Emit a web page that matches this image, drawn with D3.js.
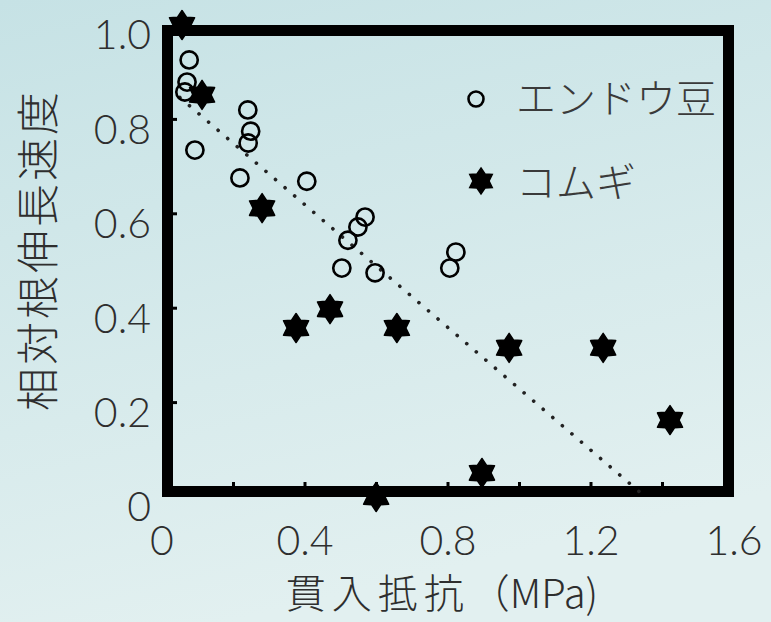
<!DOCTYPE html>
<html>
<head>
<meta charset="utf-8">
<script src="https://cdn.jsdelivr.net/npm/d3@7"></script>
<style>
  html, body { margin: 0; padding: 0; }
  body { width: 771px; height: 622px; overflow: hidden; }
  svg { display: block; }
</style>
</head>
<body>
<svg id="chart" width="771" height="622"></svg>
<script>
// Penetration resistance (MPa) vs. relative root elongation rate
const peaX  = [0.076, 0.070, 0.064, 0.092, 0.240, 0.248, 0.241, 0.218, 0.405, 0.568, 0.548, 0.520, 0.503, 0.596, 0.822, 0.805];
const peaY  = [0.926, 0.879, 0.858, 0.735, 0.820, 0.775, 0.750, 0.676, 0.669, 0.593, 0.572, 0.544, 0.485, 0.475, 0.519, 0.485];
const wheatX = [0.056, 0.112, 0.280, 0.375, 0.470, 0.657, 0.599, 0.895, 0.971, 1.234, 1.421];
const wheatY = [1.000, 0.852, 0.612, 0.358, 0.398, 0.358, 0.000, 0.051, 0.316, 0.316, 0.163];
// fitted line: y = fitIntercept + fitSlope * x
const fitIntercept = 0.879;
const fitSlope = -0.65;
const fitXRange = [0.05, 1.352];

const xTicks = [0, 0.4, 0.8, 1.2, 1.6];
const xTickLabels = ["0", "0.4", "0.8", "1.2", "1.6"];
const xMinorTicks = [0.2, 0.4, 0.6, 0.8, 1.0, 1.2, 1.4];
const yTicks = [0, 0.2, 0.4, 0.6, 0.8, 1.0];
const yTickLabels = ["0", "0.2", "0.4", "0.6", "0.8", "1.0"];
const yMinorTicks = [0.2, 0.4, 0.6, 0.8];
const legendLabels = ["エンドウ豆", "コムギ"];
const xTitleParts = ["貫入抵抗", "（MPa)"];
const yTitle = "相対根伸長速度";

const svg = d3.select("#chart");
const W = 771, H = 622;

// background gradient
const defs = svg.append("defs");
const grad = defs.append("linearGradient").attr("id", "bg")
  .attr("x1", 0).attr("y1", 0).attr("x2", 0.3).attr("y2", 1);
grad.append("stop").attr("offset", "0%").attr("stop-color", "#c6e2e5");
grad.append("stop").attr("offset", "100%").attr("stop-color", "#e2f0f0");
svg.append("rect").attr("width", W).attr("height", H).attr("fill", "url(#bg)");

const x = d3.scaleLinear().domain([0, 1.6]).range([162, 734]);
const y = d3.scaleLinear().domain([0, 1]).range([497, 25]);

const frameW = 11;
const ink = "#000";
const textInk = "#2e2e2e";
const cjk = "'Noto Sans CJK JP', 'Noto Sans', sans-serif";
const digits = "Lato, 'Noto Sans', sans-serif";

// thick plot frame, stroke drawn inside the axis extents
svg.append("rect")
  .attr("x", x(0) + frameW / 2)
  .attr("y", y(1) + frameW / 2)
  .attr("width", x(1.6) - x(0) - frameW)
  .attr("height", y(0) - y(1) - frameW)
  .attr("fill", "none")
  .attr("stroke", ink)
  .attr("stroke-width", frameW);

// inward tick marks
svg.append("g").selectAll("line").data(xMinorTicks).join("line")
  .attr("x1", d => x(d)).attr("x2", d => x(d))
  .attr("y1", y(0) - frameW).attr("y2", y(0) - frameW - 4)
  .attr("stroke", ink).attr("stroke-width", 3);
svg.append("g").selectAll("line").data(yMinorTicks).join("line")
  .attr("y1", d => y(d)).attr("y2", d => y(d))
  .attr("x1", x(0) + frameW).attr("x2", x(0) + frameW + 4)
  .attr("stroke", ink).attr("stroke-width", 3);

// tick labels
svg.append("g").selectAll("text").data(xTicks).join("text")
  .attr("x", d => x(d)).attr("y", 555)
  .attr("text-anchor", "middle")
  .attr("font-family", digits).attr("font-size", 41).attr("font-weight", 300)
  .attr("fill", textInk)
  .text((d, i) => xTickLabels[i]);
svg.append("g").selectAll("text").data(yTicks).join("text")
  .attr("x", 151).attr("y", d => y(d) + 10)
  .attr("dy", "0.35em")
  .attr("text-anchor", "end")
  .attr("font-family", digits).attr("font-size", 41).attr("font-weight", 300)
  .attr("fill", textInk)
  .text((d, i) => yTickLabels[i]);

// axis titles
const xt = svg.append("text")
  .attr("x", 442).attr("y", 608)
  .attr("text-anchor", "middle")
  .attr("font-family", cjk).attr("font-size", 40).attr("font-weight", 300)
  .attr("fill", textInk);
xt.append("tspan").attr("letter-spacing", 6).text(xTitleParts[0]);
xt.append("tspan").attr("letter-spacing", 0).text(xTitleParts[1]);
svg.append("text")
  .attr("transform", "translate(54,250) rotate(-90)")
  .attr("text-anchor", "middle")
  .attr("font-family", cjk).attr("font-size", 43).attr("font-weight", 300)
  .attr("letter-spacing", 3)
  .attr("fill", textInk)
  .text(yTitle);

// dotted fitted line
const fitLine = d3.line().x(d => x(d)).y(d => y(fitIntercept + fitSlope * d));
svg.append("path")
  .attr("d", fitLine(fitXRange))
  .attr("fill", "none")
  .attr("stroke", "#222")
  .attr("stroke-width", 3.6)
  .attr("stroke-linecap", "round")
  .attr("stroke-dasharray", "0.1,12.5");

// six-pointed star marker
function starPath(R) {
  const r = R * 0.62;
  const pts = [];
  for (let k = 0; k < 12; k++) {
    const a = -Math.PI / 2 + k * Math.PI / 6;
    const rad = k % 2 === 0 ? R : r;
    pts.push([rad * Math.cos(a), rad * Math.sin(a)]);
  }
  return "M" + pts.map(p => p.join(",")).join("L") + "Z";
}

// pea: open circles
svg.append("g").selectAll("circle").data(d3.range(peaX.length)).join("circle")
  .attr("cx", i => x(peaX[i])).attr("cy", i => y(peaY[i]))
  .attr("r", 8.6)
  .attr("fill", "none")
  .attr("stroke", ink).attr("stroke-width", 2.6);

// wheat: filled stars
svg.append("g").selectAll("path").data(d3.range(wheatX.length)).join("path")
  .attr("transform", i => `translate(${x(wheatX[i])},${y(wheatY[i])})`)
  .attr("d", starPath(14.5))
  .attr("fill", ink)
  .attr("stroke", ink).attr("stroke-width", 1.5)
  .attr("stroke-linejoin", "round");

// legend
const lg = svg.append("g");
lg.append("circle").attr("cx", 476).attr("cy", 99).attr("r", 7.5)
  .attr("fill", "none").attr("stroke", ink).attr("stroke-width", 2.6);
lg.append("path").attr("transform", "translate(481,181)").attr("d", starPath(13))
  .attr("fill", ink).attr("stroke", ink).attr("stroke-width", 1.5);
lg.selectAll("text").data(legendLabels).join("text")
  .attr("x", 516).attr("y", (d, i) => i === 0 ? 99 : 183)
  .attr("dy", "0.36em")
  .attr("font-family", cjk).attr("font-size", 40).attr("font-weight", 300)
  .attr("fill", "#3a3a3a")
  .text(d => d);
</script>
</body>
</html>
